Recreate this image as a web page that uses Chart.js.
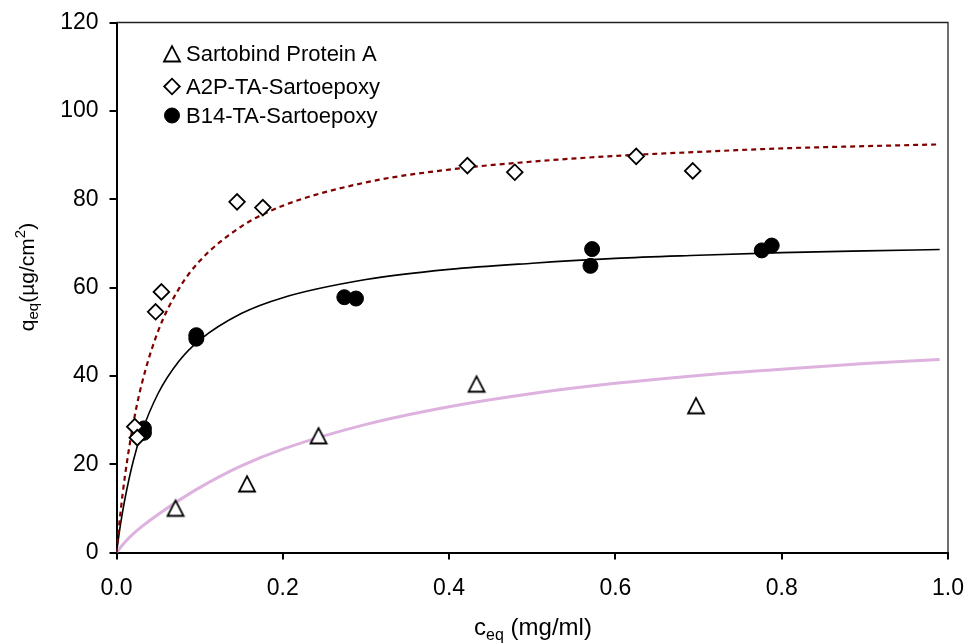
<!DOCTYPE html>
<html>
<head>
<meta charset="utf-8">
<script src="https://cdn.jsdelivr.net/npm/chart.js@4"></script>
<style>
  body { margin: 0; background: #fff; }
  canvas { display: block; }
</style>
</head>
<body>
<canvas id="isotherm" width="971" height="644"></canvas>
<script>
// ================= DATA =================
// measured points, c_eq in mg/ml, q_eq in ug/cm2
const protA_c = [0.071, 0.157, 0.243, 0.433, 0.697];
const protA_q = [10.0, 15.5, 26.4, 38.1, 33.2];

const a2p_c = [0.022, 0.025, 0.047, 0.054, 0.145, 0.176, 0.422, 0.479, 0.625, 0.693];
const a2p_q = [28.5, 26.0, 54.5, 59.0, 79.4, 78.1, 87.6, 86.1, 89.7, 86.4];

const b14_c = [0.033, 0.033, 0.096, 0.096, 0.274, 0.288, 0.572, 0.570, 0.776, 0.788];
const b14_q = [28.1, 27.1, 49.2, 48.4, 57.8, 57.5, 68.7, 64.9, 68.4, 69.5];

// fitted isotherm curves
const fit_c      = [0, 0.005, 0.01, 0.02, 0.03, 0.05, 0.075, 0.1, 0.15, 0.2, 0.3, 0.4, 0.5, 0.6, 0.7, 0.8, 0.9, 0.99];
const fit_protA  = [0, 1.2, 2.3, 4.2, 5.8, 8.6, 11.8, 14.7, 19.6, 23.4, 29.0, 33.0, 36.0, 38.3, 40.1, 41.5, 42.8, 43.7];
const fit_a2p    = [0, 9.4, 17.1, 29.0, 37.9, 50.1, 59.7, 66.0, 73.8, 78.5, 83.8, 86.7, 88.5, 89.8, 90.7, 91.5, 92.0, 92.4];
const fit_b14    = [0, 6.6, 12.0, 20.6, 27.0, 36.0, 43.3, 48.1, 54.1, 57.7, 61.8, 64.1, 65.5, 66.6, 67.3, 67.9, 68.3, 68.6];

const xTicks = [0, 0.2, 0.4, 0.6, 0.8, 1.0];
const yTicks = [0, 20, 40, 60, 80, 100, 120];

const seriesNames = ["Sartobind Protein A", "A2P-TA-Sartoepoxy", "B14-TA-Sartoepoxy"];

const FONT = "Arial, 'Liberation Sans', sans-serif";

function pts(xs, ys) {
  return xs.map((x, i) => ({ x: x, y: ys[i] }));
}

// open triangle marker (Excel style, sits centred in its box)
function triangleMarker() {
  const c = document.createElement("canvas");
  c.width = 20; c.height = 20;
  const g = c.getContext("2d");
  g.beginPath();
  g.moveTo(10, 2.2);
  g.lineTo(2, 17.5);
  g.lineTo(18, 17.5);
  g.closePath();
  g.fillStyle = "#fff";
  g.fill();
  g.lineWidth = 1.8;
  g.strokeStyle = "#000";
  g.stroke();
  return c;
}
const triangle = triangleMarker();

const markerStyles = [
  { pointStyle: triangle, radius: 10, backgroundColor: "#fff", borderColor: "#000", borderWidth: 1.8 },
  { pointStyle: "rectRot", radius: 7.8, backgroundColor: "#fff", borderColor: "#000", borderWidth: 1.8 },
  { pointStyle: "circle", radius: 7.5, backgroundColor: "#000", borderColor: "#000", borderWidth: 1 }
];

// ================= PLUGINS =================
// thin frame on top/right of the plot area
const framePlugin = {
  id: "frame",
  beforeDatasetsDraw(chart) {
    const a = chart.chartArea;
    const ctx = chart.ctx;
    ctx.save();
    ctx.strokeStyle = "#222";
    ctx.lineWidth = 1.3;
    ctx.beginPath();
    ctx.moveTo(a.left, a.top);
    ctx.lineTo(a.right, a.top);
    ctx.lineTo(a.right, a.bottom);
    ctx.stroke();
    ctx.restore();
  }
};

// legend inside the plot, top-left
const legendPlugin = {
  id: "innerLegend",
  afterDraw(chart) {
    const ctx = chart.ctx;
    const rows = [54, 86.5, 115.5];
    ctx.save();
    ctx.textBaseline = "middle";
    seriesNames.forEach((name, i) => {
      const st = markerStyles[i];
      ctx.fillStyle = st.backgroundColor;
      ctx.strokeStyle = st.borderColor;
      ctx.lineWidth = st.borderWidth;
      Chart.helpers.drawPoint(ctx, st, 172, rows[i]);
      ctx.fillStyle = "#000";
      ctx.font = "22px " + FONT;
      ctx.fillText(name, 186, rows[i] + 1);
    });
    ctx.restore();
  }
};

// axis titles with sub/superscripts
function drawRich(ctx, parts, x, y) {
  // parts: [text, size, baselineShift]
  let total = 0;
  parts.forEach(p => { ctx.font = p[1] + "px " + FONT; total += ctx.measureText(p[0]).width; });
  let cx = x - total / 2;
  parts.forEach(p => {
    ctx.font = p[1] + "px " + FONT;
    ctx.fillText(p[0], cx, y + p[2]);
    cx += ctx.measureText(p[0]).width;
  });
}

const titlePlugin = {
  id: "axisTitles",
  afterDraw(chart) {
    const ctx = chart.ctx;
    ctx.save();
    ctx.fillStyle = "#000";
    ctx.textBaseline = "alphabetic";
    drawRich(ctx, [["c", 24, 0], ["eq", 16, 5], [" (mg/ml)", 24, 0]], 533, 635);

    ctx.translate(33.5, 277);
    ctx.rotate(-Math.PI / 2);
    drawRich(ctx, [["q", 21, 0], ["eq", 15, 4], ["(\u00b5g/cm", 21, 0], ["2", 15, -9], [")", 21, 0]], 0, 0);
    ctx.restore();
  }
};

// ================= CHART =================
const tickFont = { family: FONT, size: 23 };

new Chart(document.getElementById("isotherm"), {
  type: "scatter",
  data: {
    datasets: [
      {
        label: seriesNames[0],
        data: pts(protA_c, protA_q),
        pointStyle: triangle,
        pointRadius: 10,
        order: 0
      },
      {
        label: seriesNames[1],
        data: pts(a2p_c, a2p_q),
        pointStyle: "rectRot",
        pointRadius: 7.8,
        pointBackgroundColor: "#fff",
        pointBorderColor: "#000",
        pointBorderWidth: 1.8,
        order: 0
      },
      {
        label: seriesNames[2],
        data: pts(b14_c, b14_q),
        pointStyle: "circle",
        pointRadius: 7.5,
        pointBackgroundColor: "#000",
        pointBorderColor: "#000",
        pointBorderWidth: 1,
        order: 0
      },
      {
        label: "fit protein A",
        data: pts(fit_c, fit_protA),
        showLine: true,
        pointRadius: 0,
        borderColor: "rgb(222,178,222)",
        borderWidth: 3,
        cubicInterpolationMode: "monotone",
        order: 2
      },
      {
        label: "fit A2P",
        data: pts(fit_c, fit_a2p),
        showLine: true,
        pointRadius: 0,
        borderColor: "#800000",
        borderWidth: 2.2,
        borderDash: [5, 4],
        cubicInterpolationMode: "monotone",
        order: 1
      },
      {
        label: "fit B14",
        data: pts(fit_c, fit_b14),
        showLine: true,
        pointRadius: 0,
        borderColor: "#000",
        borderWidth: 1.6,
        cubicInterpolationMode: "monotone",
        order: 1
      }
    ]
  },
  options: {
    responsive: false,
    animation: false,
    events: [],
    layout: { padding: { top: 22.5, right: 23, left: 0, bottom: 0 } },
    plugins: {
      legend: { display: false },
      tooltip: { enabled: false }
    },
    scales: {
      x: {
        type: "linear",
        min: 0,
        max: 1,
        afterBuildTicks: s => { s.ticks = xTicks.map(v => ({ value: v })); },
        afterFit: s => { s.height = 91.5; s.paddingLeft = 0; s.paddingRight = 0; },
        ticks: { font: tickFont, color: "#000", padding: 15, callback: v => v.toFixed(1) },
        grid: { drawOnChartArea: false, color: "#000", lineWidth: 2, tickLength: 7 },
        border: { color: "#000", width: 2 }
      },
      y: {
        min: 0,
        max: 120,
        afterBuildTicks: s => { s.ticks = yTicks.map(v => ({ value: v })); },
        afterFit: s => { s.width = 116.5; s.paddingTop = 0; s.paddingBottom = 0; },
        ticks: { font: tickFont, color: "#000", padding: 11 },
        grid: { drawOnChartArea: false, color: "#000", lineWidth: 2, tickLength: 7 },
        border: { color: "#000", width: 2 }
      }
    }
  },
  plugins: [framePlugin, legendPlugin, titlePlugin]
});
</script>
</body>
</html>
